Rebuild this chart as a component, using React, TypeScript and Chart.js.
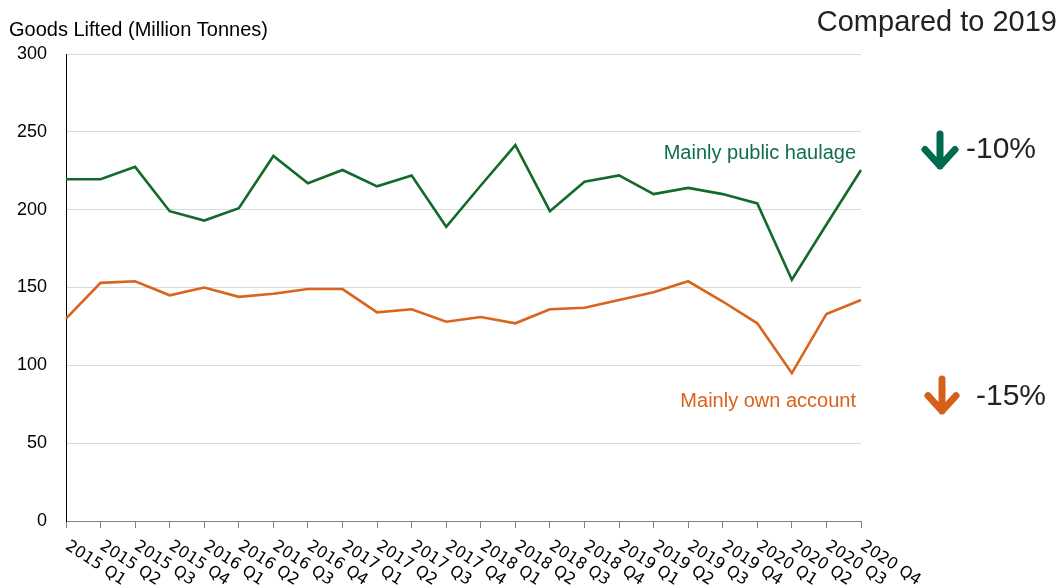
import React, { useEffect, useRef } from "react";
import { Chart, registerables } from "chart.js";

Chart.register(...registerables);

const categories = [
  "2015 Q1", "2015 Q2", "2015 Q3", "2015 Q4",
  "2016 Q1", "2016 Q2", "2016 Q3", "2016 Q4",
  "2017 Q1", "2017 Q2", "2017 Q3", "2017 Q4",
  "2018 Q1", "2018 Q2", "2018 Q3", "2018 Q4",
  "2019 Q1", "2019 Q2", "2019 Q3", "2019 Q4",
  "2020 Q1", "2020 Q2", "2020 Q3", "2020 Q4",
];

const publicHaulage = [
  219.5, 219.5, 227.5, 199, 193, 201, 234.5, 217,
  225.5, 215, 222, 189, 215.5, 241.5, 199, 218,
  222, 210, 214, 210, 204, 155, 190.5, 225.5,
];

const ownAccount = [
  130, 153, 154, 145, 150, 144, 146, 149,
  149, 134, 136, 128, 131, 127, 136, 137,
  142, 147, 154, 141, 127, 95, 133, 142,
];

const yTicks = [0, 50, 100, 150, 200, 250, 300];

const seriesLabels = ["Mainly public haulage", "Mainly own account"];
const changeLabels = ["-10%", "-15%"];

const SANS = "'Liberation Sans', Arial, sans-serif";
const GREEN_LINE = "#126b2b";
const GREEN_TEXT = "#0f6e52";
const GREEN_ARROW = "#006a4e";
const ORANGE_LINE = "#d9641e";
const ORANGE_TEXT = "#d9621c";
const ORANGE_ARROW = "#d5601b";

function drawArrow(ctx: CanvasRenderingContext2D, x: number, top: number, bottom: number, half: number, color: string) {
  ctx.save();
  ctx.strokeStyle = color;
  ctx.lineWidth = 7;
  ctx.lineCap = "round";
  ctx.lineJoin = "round";
  ctx.beginPath();
  ctx.moveTo(x, top);
  ctx.lineTo(x, bottom);
  ctx.moveTo(x - half, bottom - half * 1.1);
  ctx.lineTo(x, bottom);
  ctx.lineTo(x + half, bottom - half * 1.1);
  ctx.stroke();
  ctx.restore();
}

const overlayPlugin = {
  id: "overlay",
  afterDraw(chart: any) {
    const ctx: CanvasRenderingContext2D = chart.ctx;
    const xs = chart.scales.x;
    const ys = chart.scales.y;
    ctx.save();
    // title
    ctx.fillStyle = "#000";
    ctx.font = `20px ${SANS}`;
    ctx.textAlign = "left";
    ctx.textBaseline = "middle";
    ctx.fillText("Goods Lifted (Million Tonnes)", 9, 30);

    ctx.font = `29px ${SANS}`;
    ctx.fillStyle = "#222";
    ctx.textAlign = "right";
    ctx.fillText("Compared to 2019", 1057, 23);

    // series labels
    ctx.font = `20px ${SANS}`;
    ctx.fillStyle = GREEN_TEXT;
    ctx.fillText(seriesLabels[0], 856, 153);
    ctx.fillStyle = ORANGE_TEXT;
    ctx.fillText(seriesLabels[1], 856, 401);

    // change labels
    ctx.font = `30px ${SANS}`;
    ctx.fillStyle = "#222";
    ctx.textAlign = "left";
    ctx.fillText(changeLabels[0], 966, 150);
    ctx.fillText(changeLabels[1], 976, 397);

    drawArrow(ctx, 940, 134, 166, 15, GREEN_ARROW);
    drawArrow(ctx, 942, 379, 411, 14, ORANGE_ARROW);

    // rotated x labels
    ctx.font = "16px 'DejaVu Sans', sans-serif";
    ctx.fillStyle = "#000";
    ctx.textAlign = "left";
    ctx.textBaseline = "top";
    const yBase = ys.getPixelForValue(0);
    categories.forEach((c, i) => {
      const px = xs.getPixelForValue(i);
      ctx.save();
      ctx.translate(px + 5, yBase + 17);
      ctx.rotate((33 * Math.PI) / 180);
      ctx.fillText(c, 0, 0);
      ctx.restore();
    });
    ctx.restore();
  },
};

export default function App() {
  const ref = useRef<HTMLCanvasElement>(null);
  useEffect(() => {
    document.body.style.margin = "0";
    const chart = new Chart(ref.current as HTMLCanvasElement, {
      type: "line",
      data: {
        labels: categories,
        datasets: [
          {
            label: seriesLabels[0],
            data: publicHaulage,
            borderColor: GREEN_LINE,
            borderWidth: 2.6,
            pointRadius: 0,
            tension: 0,
            fill: false,
          },
          {
            label: seriesLabels[1],
            data: ownAccount,
            borderColor: ORANGE_LINE,
            borderWidth: 2.6,
            pointRadius: 0,
            tension: 0,
            fill: false,
          },
        ],
      },
      options: {
        animation: false,
        responsive: true,
        maintainAspectRatio: false,
        layout: { padding: { top: 54, right: 198, bottom: 0, left: 0 } },
        plugins: { legend: { display: false }, tooltip: { enabled: false } },
        scales: {
          x: {
            type: "category",
            offset: false,
            grid: { drawOnChartArea: false, drawTicks: true, tickLength: 7, color: "#808080", lineWidth: 1 },
            border: { display: true, color: "#808080", width: 1 },
            ticks: { display: false },
            afterFit: (s: any) => { s.height = 66; },
          },
          y: {
            min: 0,
            max: 300,
            afterBuildTicks: (s: any) => { s.ticks = yTicks.map((v) => ({ value: v })); },
            grid: { color: "#d9d9d9", drawTicks: false, lineWidth: 1 },
            border: { display: true, color: "#000", width: 1 },
            ticks: { padding: 19, color: "#000", font: { family: SANS, size: 18 } },
            afterFit: (s: any) => { s.width = 66; },
          },
        },
      },
      plugins: [overlayPlugin],
    } as any);
    return () => chart.destroy();
  }, []);
  return (
    <div style={{ position: "absolute", left: 0, top: 0, width: 1059, height: 587 }}>
      <canvas ref={ref} />
    </div>
  );
}
